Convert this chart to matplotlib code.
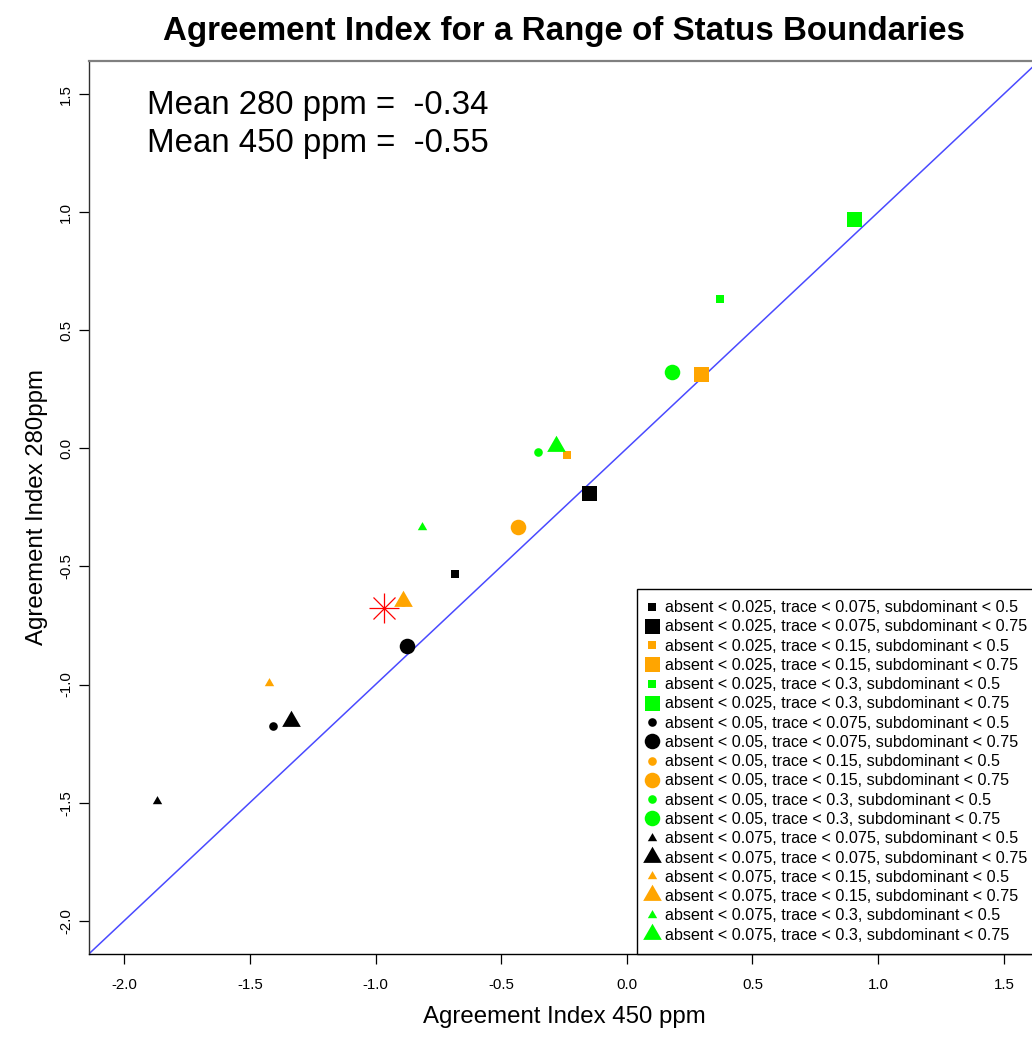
import matplotlib
matplotlib.use("Agg")
import matplotlib.pyplot as plt
import numpy as np

plt.rcParams['font.family'] = ['Liberation Sans', 'DejaVu Sans']

# status boundaries tested
absent_lim      = [0.025, 0.05, 0.075]
trace_lim       = [0.075, 0.15, 0.3]
subdominant_lim = [0.5, 0.75]

# agreement index, one value per boundary combination (absent > trace > subdominant order)
ai_450 = [-0.683, -0.149, -0.240, 0.294, 0.372, 0.905,
          -1.408, -0.875, -0.890, -0.432, -0.354, 0.179,
          -1.870, -1.335, -1.425, -0.892, -0.814, -0.281]
ai_280 = [-0.531, -0.189, -0.027, 0.313, 0.632, 0.972,
          -1.177, -0.836, -0.650, -0.332, -0.016, 0.324,
          -1.495, -1.155, -0.992, -0.648, -0.334, 0.008]

# reference point (red asterisk)
ref_450 = [-0.965]
ref_280 = [-0.675]

axis_lim = [-2.14, 1.64]
ticks    = [-2.0, -1.5, -1.0, -0.5, 0.0, 0.5, 1.0, 1.5]

# styles: marker by absent, colour by trace, size by subdominant
tri = [(0, 1), (-0.866, -0.5), (0.866, -0.5)]
marker_for_absent = ['s', 'o', tri]
size_for_marker = {'s': (5.4, 10.8), 'o': (6.2, 11.2), 'tri': (7.8, 15.5)}
colour_for_trace = ['black', '#FFA500', '#00FF00']

fig = plt.figure(figsize=(10.32, 10.39), dpi=100)
W, H = 1032, 1039
ax = fig.add_axes([89 / W, (H - 953.8) / H, (1039 - 89) / W, (953.8 - 61) / H])

ax.plot(axis_lim, axis_lim, color='#4a4aff', lw=1.1, zorder=1)

i = 0
for a_i, a in enumerate(absent_lim):
    for t_i, t in enumerate(trace_lim):
        for s_i, s in enumerate(subdominant_lim):
            mk = marker_for_absent[a_i]
            key = 'tri' if isinstance(mk, list) else mk
            ax.plot([ai_450[i]], [ai_280[i]], linestyle='none', marker=mk,
                    ms=size_for_marker[key][s_i], mew=0,
                    color=colour_for_trace[t_i],
                    label=f"absent < {a}, trace < {t}, subdominant < {s}",
                    zorder=3)
            i += 1

ax.plot(ref_450, ref_280, linestyle='none', marker='+', ms=22.3, mew=0.9,
        color='red', zorder=4)
ax.plot(ref_450, ref_280, linestyle='none', marker='x', ms=15.8, mew=0.9,
        color='red', zorder=4)

ax.set_xlim(axis_lim)
ax.set_ylim(axis_lim)
ax.set_xticks(ticks)
ax.set_yticks(ticks)
ax.set_xticklabels([f"{v:.1f}" for v in ticks])
ax.set_yticklabels([f"{v:.1f}" for v in ticks], rotation=90, va='center')
ax.tick_params(direction='out', length=7.5, width=0.9, labelsize=10.8)
ax.tick_params(axis='x', pad=10)
ax.tick_params(axis='y', pad=4)
for sp in ax.spines.values():
    sp.set_linewidth(1.0)
ax.spines['top'].set_color('#808080')
ax.spines['top'].set_linewidth(1.6)
ax.spines['left'].set_color('#303030')

ax.set_title("Agreement Index for a Range of Status Boundaries",
             fontsize=23.9, fontweight='bold', pad=15)
ax.set_xlabel("Agreement Index 450 ppm", fontsize=17.3, labelpad=10)
ax.set_ylabel("Agreement Index 280ppm", fontsize=17.3, labelpad=8)

ax.text(0.0611, 0.9409, f"Mean 280 ppm =  {np.mean(ai_280):.2f}",
        transform=ax.transAxes, fontsize=23.8, va='baseline', ha='left')
ax.text(0.0611, 0.8983, f"Mean 450 ppm =  {np.mean(ai_450):.2f}",
        transform=ax.transAxes, fontsize=23.8, va='baseline', ha='left')

leg = ax.legend(loc='lower right', borderaxespad=0, fancybox=False,
                edgecolor='black', framealpha=1, fontsize=11.6,
                handlelength=0.45, handletextpad=0.62, borderpad=0.7,
                labelspacing=0.264, numpoints=1)
leg.get_frame().set_linewidth(1.0)

fig.savefig("out.png", dpi=100)
